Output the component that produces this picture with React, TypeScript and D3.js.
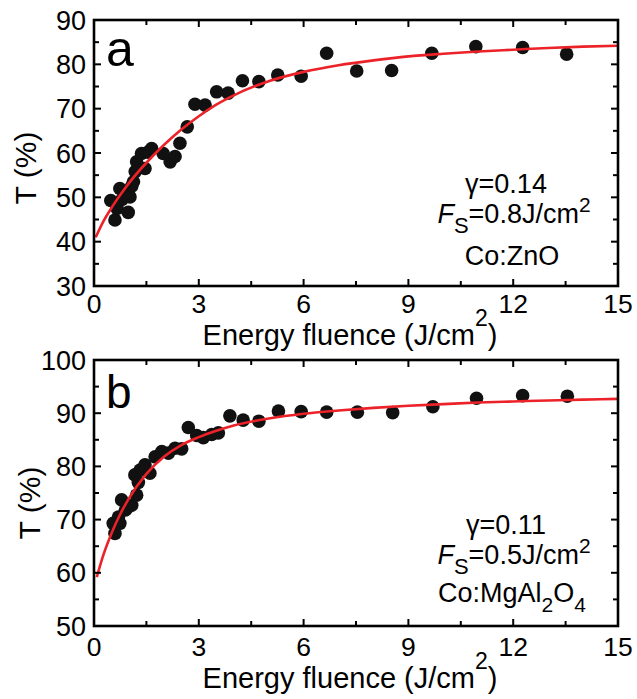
import React from "react";
import * as d3 from "d3";

// Panel a: Co:ZnO
const xA = [0.48, 0.6, 0.66, 0.74, 0.8, 0.9, 0.98, 1.03, 1.08, 1.13, 1.18, 1.22, 1.36, 1.46, 1.55, 1.65, 1.98, 2.18, 2.32, 2.46, 2.67, 2.89, 3.18, 3.51, 3.84, 4.25, 4.72, 5.26, 5.93, 6.66, 7.52, 8.52, 9.67, 10.93, 12.27, 13.53];
const yA = [49.3, 44.9, 47.5, 52.0, 49.5, 51.0, 46.6, 50.1, 52.5, 53.5, 55.8, 58.0, 59.9, 56.5, 60.2, 61.0, 59.9, 58.0, 59.2, 62.2, 65.9, 71.0, 70.8, 73.8, 73.5, 76.3, 76.1, 77.6, 77.3, 82.5, 78.5, 78.6, 82.5, 84.0, 83.8, 82.3];
const fitAx = [0.05, 0.25, 0.5, 0.75, 1, 1.5, 2, 2.5, 3, 3.5, 4, 5, 6, 7, 8, 9, 10, 11, 12, 13, 14, 15];
const fitAy = [41, 44.3, 47.6, 50.5, 53.2, 57.8, 61.8, 65.3, 68.3, 70.9, 73.0, 76.2, 78.3, 79.8, 80.9, 81.8, 82.4, 82.9, 83.3, 83.7, 84.0, 84.2];

// Panel b: Co:MgAl2O4
const xB = [0.55, 0.6, 0.7, 0.74, 0.79, 0.9, 0.98, 1.08, 1.17, 1.22, 1.27, 1.32, 1.46, 1.6, 1.75, 1.94, 2.13, 2.32, 2.51, 2.7, 2.94, 3.13, 3.37, 3.56, 3.89, 4.27, 4.72, 5.28, 5.93, 6.66, 7.54, 8.55, 9.7, 10.95, 12.27, 13.55];
const yB = [69.3, 67.4, 70.5, 69.3, 73.7, 71.8, 72.4, 72.7, 78.4, 74.6, 77.0, 79.3, 80.3, 78.7, 81.8, 82.8, 82.5, 83.4, 83.3, 87.3, 85.8, 85.4, 86.0, 86.3, 89.5, 88.7, 88.5, 90.4, 90.3, 90.2, 90.2, 90.1, 91.2, 92.8, 93.3, 93.2];
const fitBx = [0.08, 0.25, 0.5, 0.75, 1, 1.5, 2, 2.5, 3, 3.5, 4, 5, 6, 7, 8, 9, 10, 11, 12, 13, 14, 15];
const fitBy = [59.2, 63.0, 67.4, 71.0, 74.0, 78.6, 81.8, 84.0, 85.5, 86.7, 87.7, 89.0, 89.9, 90.5, 91.0, 91.4, 91.7, 92.0, 92.2, 92.4, 92.55, 92.7];

const xTicks = [0, 3, 6, 9, 12, 15];
const xMinor = [1.5, 4.5, 7.5, 10.5, 13.5];
const yTicksA = [30, 40, 50, 60, 70, 80, 90];
const yTicksB = [50, 60, 70, 80, 90, 100];

const FONT = "'Liberation Sans', Arial, Helvetica, sans-serif";
const RED = "#ec2229";

type PanelProps = {
  top: number;
  bottom: number;
  yDomain: [number, number];
  yTicks: number[];
  xs: number[];
  ys: number[];
  fx: number[];
  fy: number[];
  letter: string;
  letterSize: number;
  letterY: number;
  yLabelX: number;
  yLabelY: number;
  tickBaseline: number;
  titleBaseline: number;
  annY: number[];
  gamma: string;
  fs: string;
  material: React.ReactNode;
  clipId: string;
};

function Panel(p: PanelProps) {
  const left = 94;
  const right = 618;
  const x = d3.scaleLinear().domain([0, 15]).range([left, right]);
  const y = d3.scaleLinear().domain(p.yDomain).range([p.bottom, p.top]);
  const yMinor: number[] = [];
  for (let v = p.yDomain[0] + 5; v < p.yDomain[1]; v += 10) yMinor.push(v);
  const line = d3
    .line<number>()
    .x((_, i) => x(p.fx[i]))
    .y((d) => y(d))
    .curve(d3.curveMonotoneX);
  const maj = 7;
  const mn = 5;
  return (
    <g>
      <defs>
        <clipPath id={p.clipId}>
          <rect x={left} y={p.top} width={right - left} height={p.bottom - p.top} />
        </clipPath>
      </defs>
      {p.xs.map((v, i) => (
        <circle key={"pt" + i} cx={x(v)} cy={y(p.ys[i])} r={6.8} fill="#111" />
      ))}
      <path d={line(p.fy) || ""} fill="none" stroke={RED} strokeWidth={2.6} clipPath={`url(#${p.clipId})`} />
      {xTicks.map((t) => (
        <g key={"xt" + t}>
          <line x1={x(t)} x2={x(t)} y1={p.bottom} y2={p.bottom - maj} stroke="#000" strokeWidth={2} />
          <line x1={x(t)} x2={x(t)} y1={p.top} y2={p.top + maj} stroke="#000" strokeWidth={2} />
          <text x={x(t)} y={p.tickBaseline} textAnchor="middle" fontSize={26.5} fontFamily={FONT}>
            {t}
          </text>
        </g>
      ))}
      {xMinor.map((t) => (
        <g key={"xm" + t}>
          <line x1={x(t)} x2={x(t)} y1={p.bottom} y2={p.bottom - mn} stroke="#000" strokeWidth={2} />
          <line x1={x(t)} x2={x(t)} y1={p.top} y2={p.top + mn} stroke="#000" strokeWidth={2} />
        </g>
      ))}
      {p.yTicks.map((t) => (
        <g key={"yt" + t}>
          <line x1={left} x2={left + maj} y1={y(t)} y2={y(t)} stroke="#000" strokeWidth={2} />
          <line x1={right} x2={right - maj} y1={y(t)} y2={y(t)} stroke="#000" strokeWidth={2} />
          <text x={86} y={y(t) + 9.5} textAnchor="end" fontSize={27} fontFamily={FONT}>
            {t}
          </text>
        </g>
      ))}
      {yMinor.map((t) => (
        <g key={"ym" + t}>
          <line x1={left} x2={left + mn} y1={y(t)} y2={y(t)} stroke="#000" strokeWidth={2} />
          <line x1={right} x2={right - mn} y1={y(t)} y2={y(t)} stroke="#000" strokeWidth={2} />
        </g>
      ))}
      <rect x={left} y={p.top} width={right - left} height={p.bottom - p.top} fill="none" stroke="#000" strokeWidth={2.6} />
      <text x={106} y={p.letterY} fontSize={p.letterSize} fontFamily={FONT}>
        {p.letter}
      </text>
      <text
        transform={`translate(${p.yLabelX},${p.yLabelY}) rotate(-90)`}
        textAnchor="middle"
        fontSize={30}
        fontFamily={FONT}
      >
        T (%)
      </text>
      <text x={350} y={p.titleBaseline} textAnchor="middle" fontSize={29} fontFamily={FONT}>
        Energy fluence (J/cm
        <tspan dy={-19} fontSize={23}>2</tspan>
        <tspan dy={19}>)</tspan>
      </text>
      <text x={506} y={p.annY[0]} textAnchor="middle" fontSize={27} fontFamily={FONT}>
        {p.gamma}
      </text>
      <text x={514} y={p.annY[1]} textAnchor="middle" fontSize={27} fontFamily={FONT}>
        <tspan fontStyle="italic">F</tspan>
        <tspan dy={10} fontSize={22}>S</tspan>
        <tspan dy={-10}>{p.fs}</tspan>
        <tspan dy={-11} fontSize={21}>2</tspan>
      </text>
      <text x={512} y={p.annY[2]} textAnchor="middle" fontSize={27} fontFamily={FONT}>
        {p.material}
      </text>
    </g>
  );
}

export default function App() {
  return (
    <svg width={637} height={699} style={{ position: "absolute", left: 0, top: 0, background: "#fff" }}>
      <rect width={637} height={699} fill="#fff" />
      <Panel
        top={20}
        bottom={286}
        yDomain={[30, 90]}
        yTicks={yTicksA}
        xs={xA}
        ys={yA}
        fx={fitAx}
        fy={fitAy}
        letter="a"
        letterSize={50}
        letterY={66}
        yLabelX={36}
        yLabelY={168}
        tickBaseline={313}
        titleBaseline={345}
        annY={[193, 223, 265]}
        gamma="γ=0.14"
        fs="=0.8J/cm"
        material="Co:ZnO"
        clipId="clipA"
      />
      <Panel
        top={360}
        bottom={626}
        yDomain={[50, 100]}
        yTicks={yTicksB}
        xs={xB}
        ys={yB}
        fx={fitBx}
        fy={fitBy}
        letter="b"
        letterSize={46}
        letterY={408}
        yLabelX={40}
        yLabelY={503}
        tickBaseline={656}
        titleBaseline={688}
        annY={[534, 564, 602]}
        gamma="γ=0.11"
        fs="=0.5J/cm"
        material={
          <>
            Co:MgAl<tspan dy={10} fontSize={21}>2</tspan>
            <tspan dy={-10}>O</tspan>
            <tspan dy={10} fontSize={21}>4</tspan>
          </>
        }
        clipId="clipB"
      />
    </svg>
  );
}
